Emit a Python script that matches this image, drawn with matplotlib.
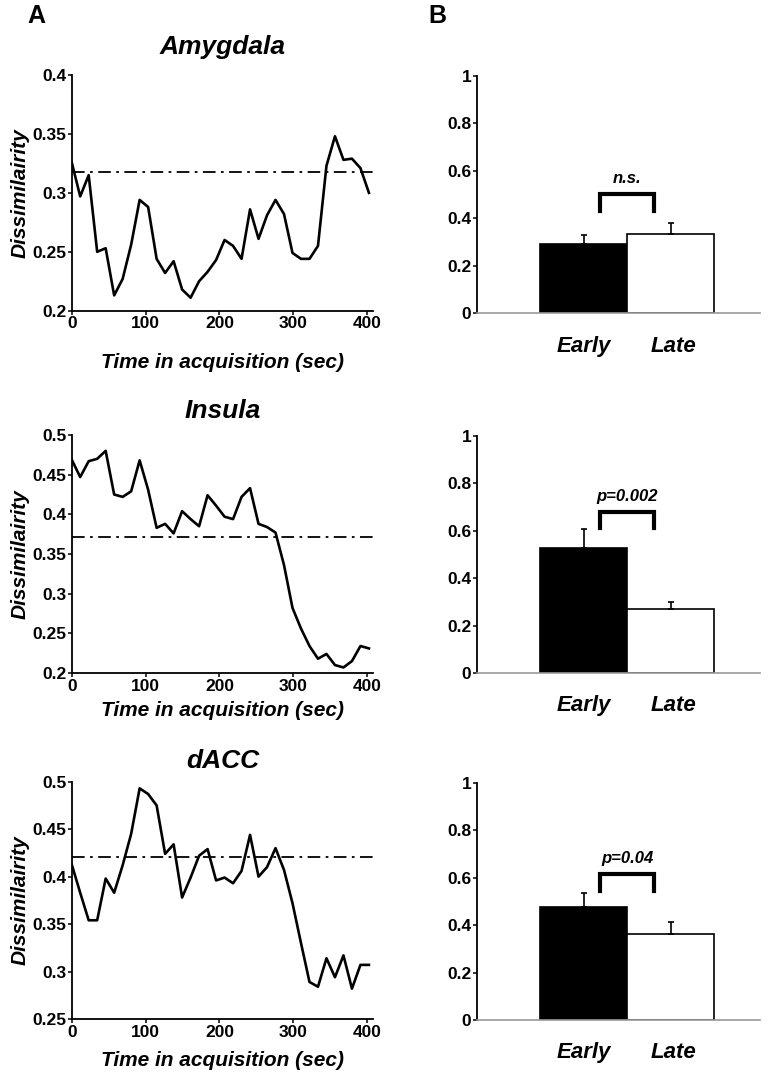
import matplotlib
matplotlib.use("Agg")
import matplotlib.pyplot as plt

plt.rcParams['font.family'] = ['Liberation Sans', 'DejaVu Sans']
plt.rcParams['font.weight'] = 'bold'

# time points (sec)
times = [0, 11.5, 23, 34.5, 46, 57.5, 69, 80.5, 92, 103.5, 115, 126.5, 138, 149.5,
         161, 172.5, 184, 195.5, 207, 218.5, 230, 241.5, 253, 264.5, 276, 287.5,
         299, 310.5, 322, 333.5, 345, 356.5, 368, 379.5, 391, 402.5]

amyg = [0.326, 0.297, 0.315, 0.250, 0.253, 0.213, 0.227, 0.256, 0.294, 0.288,
        0.244, 0.232, 0.242, 0.218, 0.211, 0.225, 0.233, 0.243, 0.260, 0.255,
        0.244, 0.286, 0.261, 0.281, 0.294, 0.282, 0.249, 0.244, 0.244, 0.255,
        0.323, 0.348, 0.328, 0.329, 0.321, 0.300]
insula = [0.469, 0.447, 0.467, 0.470, 0.480, 0.425, 0.422, 0.429, 0.468, 0.431,
          0.383, 0.388, 0.376, 0.404, 0.394, 0.385, 0.424, 0.411, 0.397, 0.394,
          0.422, 0.433, 0.388, 0.384, 0.377, 0.336, 0.282, 0.256, 0.234, 0.218,
          0.224, 0.210, 0.207, 0.215, 0.234, 0.231]
dacc = [0.413, 0.383, 0.354, 0.354, 0.398, 0.383, 0.412, 0.445, 0.493, 0.487,
        0.475, 0.424, 0.434, 0.378, 0.399, 0.422, 0.429, 0.396, 0.399, 0.393,
        0.406, 0.444, 0.400, 0.410, 0.430, 0.407, 0.372, 0.330, 0.289, 0.284,
        0.314, 0.294, 0.317, 0.282, 0.307, 0.307]

regions = ['Amygdala', 'Insula', 'dACC']
thresholds = [0.318, 0.372, 0.421]
yticks_line = [[0.2, 0.25, 0.3, 0.35, 0.4],
               [0.2, 0.25, 0.3, 0.35, 0.4, 0.45, 0.5],
               [0.25, 0.3, 0.35, 0.4, 0.45, 0.5]]
ytick_labels_line = [['0.2', '0.25', '0.3', '0.35', '0.4'],
                     ['0.2', '0.25', '0.3', '0.35', '0.4', '0.45', '0.5'],
                     ['0.25', '0.3', '0.35', '0.4', '0.45', '0.5']]

# bars: early / late
conditions = ['Early', 'Late']
bar_means = [[0.292, 0.334], [0.526, 0.269], [0.478, 0.362]]
bar_errs = [[0.039, 0.045], [0.081, 0.031], [0.056, 0.049]]
stats_text = ['n.s.', 'p=0.002', 'p=0.04']
bracket_top = [0.50, 0.677, 0.614]
bracket_leg = [0.43, 0.61, 0.545]

W, H = 780, 1078
fig = plt.figure(figsize=(W / 100, H / 100), dpi=100)

# pixel boxes (left, top, right, bottom)
line_boxes = [(71.7, 75, 373, 310.7), (71.7, 435, 373, 673), (71.7, 781.7, 373, 1019)]
bar_boxes = [(476.7, 75.7, 760, 313.3), (476.7, 435.7, 760, 673), (476.7, 782.7, 760, 1020)]
title_pad = [15, 12, 10]
xlabel_pad = [16, 5, 8]


def px_axes(box):
    l, t, r, b = box
    return fig.add_axes([l / W, 1 - b / H, (r - l) / W, (b - t) / H])


series = [amyg, insula, dacc]
for i in range(3):
    ax = px_axes(line_boxes[i])
    ax.plot(times, series[i], color='black', lw=1.9)
    ax.axhline(thresholds[i], color='black', lw=1.3, linestyle=(0, (7, 3, 1.5, 3)))
    ax.set_xlim(0, 408)
    ax.set_ylim(yticks_line[i][0], yticks_line[i][-1])
    ax.set_xticks([0, 100, 200, 300, 400])
    ax.set_xticklabels(['0', '100', '200', '300', '400'], fontsize=12.5, fontweight='bold')
    ax.set_yticks(yticks_line[i])
    ax.set_yticklabels(ytick_labels_line[i], fontsize=12.5, fontweight='bold')
    ax.tick_params(direction='out', length=3, width=1.1, pad=1)
    for s in ['top', 'right']:
        ax.spines[s].set_visible(False)
    for s in ['left', 'bottom']:
        ax.spines[s].set_linewidth(1.3)
    ax.set_ylabel('Dissimilairity', fontsize=15, fontweight='bold', style='italic', labelpad=2)
    ax.set_xlabel('Time in acquisition (sec)', fontsize=15, fontweight='bold', style='italic',
                  labelpad=xlabel_pad[i])
    ax.set_title(regions[i], fontsize=19, fontweight='bold', style='italic', pad=title_pad[i])

for i in range(3):
    ax = px_axes(bar_boxes[i])
    ax.bar([0, 1], bar_means[i], width=1.0, color=['black', 'white'],
           edgecolor='black', linewidth=1.2, zorder=2)
    ax.errorbar([0, 1], bar_means[i], yerr=[[0, 0], bar_errs[i]], fmt='none',
                ecolor='black', elinewidth=1.2, capsize=2, capthick=1.2, zorder=3)
    ax.plot([0.19, 0.19, 0.81, 0.81],
            [bracket_leg[i], bracket_top[i], bracket_top[i], bracket_leg[i]],
            color='black', lw=3, solid_joinstyle='miter')
    ax.text(0.5, bracket_top[i] + 0.035, stats_text[i], ha='center', va='bottom',
            fontsize=12, fontweight='bold', style='italic')
    ax.set_xlim(-1.234, 2.03)
    ax.set_ylim(0, 1)
    ax.set_yticks([0, 0.2, 0.4, 0.6, 0.8, 1])
    ax.set_yticklabels(['0', '0.2', '0.4', '0.6', '0.8', '1'], fontsize=12.5, fontweight='bold')
    ax.set_xticks([0, 1.03])
    ax.set_xticklabels(conditions, fontsize=16, fontweight='bold', style='italic')
    ax.tick_params(axis='x', length=0, pad=16)
    ax.tick_params(axis='y', direction='out', length=3, width=1.1, pad=1)
    for s in ['top', 'right']:
        ax.spines[s].set_visible(False)
    ax.spines['left'].set_linewidth(1.3)
    ax.spines['bottom'].set_color('#999999')
    ax.spines['bottom'].set_linewidth(1.2)

fig.text(27 / W, 1 - 16 / H, 'A', fontsize=18, fontweight='bold', ha='left', va='center')
fig.text(428 / W, 1 - 16 / H, 'B', fontsize=18, fontweight='bold', ha='left', va='center')

fig.savefig('out.png', dpi=100)
